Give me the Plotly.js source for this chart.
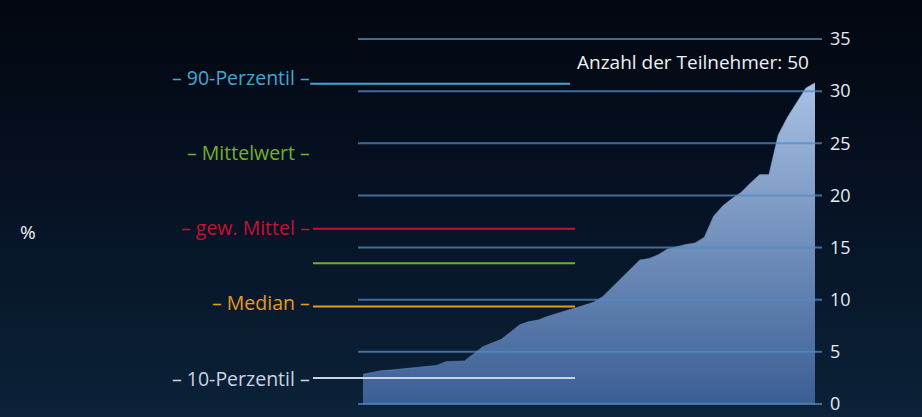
<!DOCTYPE html>
<html>
<head>
<meta charset="utf-8">
<script src="https://cdn.plot.ly/plotly-3.0.1.min.js"></script>
<style>
html,body{margin:0;padding:0;width:922px;height:417px;overflow:hidden;
background:linear-gradient(to bottom,#03070f 0%,#061123 45%,#0b2238 100%);}
#chart{width:922px;height:417px;}
</style>
</head>
<body>
<div id="chart"></div>
<script>
// sorted participant values (%)
const participants = Array.from({length:50},(_,i)=>i+1);
const values = [2.85,3.0,3.2,3.25,3.35,3.45,3.55,3.62,3.7,4.06,
                4.1,4.12,4.8,5.5,5.85,6.2,6.9,7.6,7.9,8.05,
                8.4,8.7,8.95,9.2,9.5,9.75,10.3,11.2,12.1,13.0,
                13.8,13.95,14.3,14.86,15.1,15.3,15.45,16.0,18.0,19.0,
                19.7,20.3,21.2,22.0,22.0,25.8,27.5,28.9,30.3,30.8];
const yTicks = [0,5,10,15,20,25,30,35];
const yTickLabels = ['0','5','10','15','20','25','30','35'];
const statLabels = ['– 90-Perzentil –','– Mittelwert –','– gew. Mittel –','– Median –','– 10-Perzentil –'];
const statValues = [30.7,13.5,16.8,9.35,2.5];
const statColors = ['#3ea8d6','#72b02c','#c41230','#e59a1e','#c9d4e3'];
const labelY = [0.887,0.685,0.4825,0.283,0.078];
const lineX0 = [-0.103,-0.097,-0.097,-0.097,-0.097];
const lineX1 = [0.457,0.4677,0.4677,0.4677,0.4677];
const participantCount = 50;

const font = '"Open Sans", "Noto Sans", sans-serif';

const trace = {
  x: participants, y: values, type:'scatter', mode:'lines',
  fill:'tozeroy',
  line:{width:0.5,color:'#6f8fbf'},
  fillgradient:{type:'vertical',start:0,stop:31,
    colorscale:[[0,'#3b5e94'],[1,'#a9c2e4']]},
  hoverinfo:'skip', showlegend:false
};

const shapes = [];
yTicks.forEach(v=>{
  shapes.push({type:'line',xref:'paper',yref:'y',x0:0,x1:1,y0:v,y1:v,
    layer:'above',line:{color:'rgba(80,140,198,0.75)',width:2}});
});
statValues.forEach((v,i)=>{
  shapes.push({type:'line',xref:'paper',yref:'y',x0:lineX0[i],x1:lineX1[i],y0:v,y1:v,
    layer:'above',line:{color:statColors[i],width:2}});
});

const annotations = statLabels.map((t,i)=>({
  text:t, xref:'paper', yref:'paper', x:-0.099, y:labelY[i],
  xanchor:'right', yanchor:'middle', showarrow:false,
  font:{family:font,size:19.5,color:statColors[i]}
}));
annotations.push({text:'Anzahl der Teilnehmer: '+participantCount, xref:'paper', yref:'paper',
  x:0.976, y:0.93, xanchor:'right', yanchor:'middle', showarrow:false,
  font:{family:font,size:19,color:'#eef2f7'}});
annotations.push({text:'%', xref:'paper', yref:'paper', x:-0.733, y:0.472,
  xanchor:'left', yanchor:'middle', showarrow:false,
  font:{family:font,size:19,color:'#eef2f7'}});

const layout = {
  width:922, height:417,
  margin:{l:358,r:100,t:36,b:10},
  paper_bgcolor:'rgba(0,0,0,0)', plot_bgcolor:'rgba(0,0,0,0)',
  xaxis:{range:[0.46,50.76],visible:false,fixedrange:true},
  yaxis:{range:[-0.288,35.288],side:'right',tickvals:yTicks,ticktext:yTickLabels,
    showgrid:false,zeroline:false,showline:false,
    ticks:'',ticklen:0,ticklabelstandoff:7,
    tickfont:{family:font,size:18,color:'#e6ebf2'},fixedrange:true},
  shapes:shapes, annotations:annotations, showlegend:false
};

Plotly.newPlot('chart',[trace],layout,{displayModeBar:false,staticPlot:true});
</script>
</body>
</html>
